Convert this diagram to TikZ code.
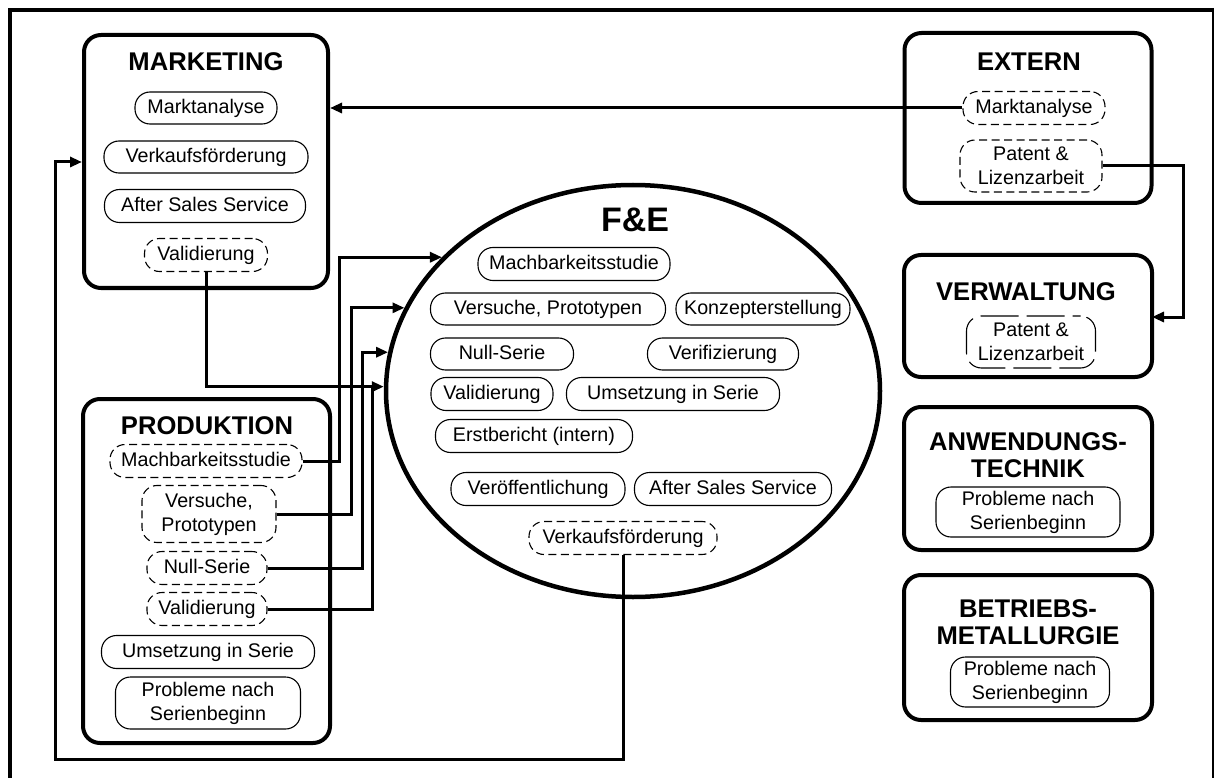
\documentclass[tikz,border=0pt]{standalone}
\usepackage{fontspec}
\setmainfont{Liberation Sans}
\usetikzlibrary{arrows.meta,shapes.geometric}

\newcommand\myItemFont{\fontsize{19.7pt}{24pt}\selectfont}
\newcommand\myHeadFont{\fontsize{25.6pt}{27pt}\selectfont\bfseries}
\newcommand\myFEFont{\fontsize{34pt}{38pt}\selectfont\bfseries}

\tikzset{
  grp/.style={draw, line width=4pt, rounded corners=17pt, inner sep=0pt},
  pillbase/.style={draw, line width=1.1pt, rounded corners=15pt, align=center,
    font=\myItemFont, inner sep=0pt},
  pill/.style={pillbase, text height=14.5pt, text depth=3.5pt},
  dpill/.style={pill, dash pattern=on 8pt off 4.5pt},
  dpilltwo/.style={pillbase, dash pattern=on 8pt off 4.5pt},
  longdash/.style={pillbase, dash pattern=on 38pt off 8pt, dash phase=30pt},
  head/.style={font=\myHeadFont, align=center, inner sep=0pt},
  conn/.style={line width=3pt, -{Triangle[length=12pt,width=10pt]}},
  plain/.style={line width=3pt}
}

\begin{document}
\begin{tikzpicture}[x=1pt,y=-1pt]
\useasboundingbox (0,0) rectangle (1216,778);

% outer frame
\draw[line width=4pt] (10,790) -- (10,10) -- (1213,10);
\draw[line width=2pt] (1213,8) -- (1213,790);

% ---------- MARKETING ----------
\node[grp, minimum width=244pt, minimum height=253pt] (mkt) at (206,161.5) {};
\node[head] (tMkt) at (206,62) {MARKETING};
\node[pill, minimum width=142pt, minimum height=32pt] (mMA) at (206,108) {Marktanalyse};
\node[pill, minimum width=204pt, minimum height=32pt] (mVK) at (206,157) {Verkaufsförderung};
\node[pill, minimum width=201pt, minimum height=33pt] (mAS) at (205,206) {After Sales Service};
\node[dpill, minimum width=123pt, minimum height=33pt] (mVal) at (206,255) {Validierung};

% ---------- PRODUKTION ----------
\node[grp, minimum width=247pt, minimum height=344pt] (prod) at (206.5,571) {};
\node[head] (tProd) at (207,426) {PRODUKTION};
\node[dpill, minimum width=192pt, minimum height=33pt] (pMach) at (206,461) {Machbarkeitsstudie};
\node[dpilltwo, minimum width=134pt, minimum height=57pt] (pVers) at (209,514) {Versuche,\\Prototypen};
\node[dpill, minimum width=120pt, minimum height=33pt] (pNull) at (207,568) {Null-Serie};
\node[dpill, minimum width=120pt, minimum height=33pt] (pVal) at (207,609) {Validierung};
\node[pill, minimum width=213pt, minimum height=33pt] (pUms) at (208,652) {Umsetzung in Serie};
\node[pillbase, minimum width=185pt, minimum height=52pt] (pProb) at (208,703) {Probleme nach\\Serienbeginn};

% ---------- F&E ----------
\node[ellipse, draw, line width=4.5pt, minimum width=494pt, minimum height=412pt, inner sep=0pt] (FE) at (633,391) {};
\node[font=\myFEFont, inner sep=0pt] (tFE) at (635,220) {F\&E};
\node[pill, minimum width=192pt, minimum height=33pt] (fMach) at (574,264) {Machbarkeitsstudie};
\node[pill, minimum width=235pt, minimum height=32pt] (fVers) at (548,309) {Versuche, Prototypen};
\node[pill, minimum width=174pt, minimum height=32pt] (fKonz) at (763,309) {Konzepterstellung};
\node[pill, minimum width=143pt, minimum height=32pt] (fNull) at (502,354) {Null-Serie};
\node[pill, minimum width=151pt, minimum height=32pt] (fVerif) at (723,354) {Verifizierung};
\node[pill, minimum width=122pt, minimum height=33pt] (fVal) at (492,394) {Validierung};
\node[pill, minimum width=213pt, minimum height=33pt] (fUms) at (673,394) {Umsetzung in Serie};
\node[pill, minimum width=197pt, minimum height=33pt] (fErst) at (534,436) {Erstbericht (intern)};
\node[pill, minimum width=174pt, minimum height=33pt] (fVer) at (538,489) {Veröffentlichung};
\node[pill, minimum width=197pt, minimum height=33pt] (fAS) at (733,489) {After Sales Service};
\node[dpill, minimum width=188pt, minimum height=33pt] (fVK) at (623,538) {Verkaufsförderung};

% ---------- EXTERN ----------
\node[grp, minimum width=247pt, minimum height=170pt] (ext) at (1028,118) {};
\node[head] (tExt) at (1029,62) {EXTERN};
\node[dpill, minimum width=142pt, minimum height=33pt] (eMA) at (1034,108) {Marktanalyse};
\node[dpilltwo, minimum width=142pt, minimum height=52pt] (ePat) at (1031,166) {Patent \&\\Lizenzarbeit};

% ---------- VERWALTUNG ----------
\node[grp, minimum width=248pt, minimum height=122pt] (vw) at (1028,316) {};
\node[head] (tVw) at (1026,292) {VERWALTUNG};
\node[longdash, minimum width=129pt, minimum height=52pt] (vPat) at (1031,342) {Patent \&\\Lizenzarbeit};

% ---------- ANWENDUNGSTECHNIK ----------
\node[grp, minimum width=248pt, minimum height=143pt] (anw) at (1028,478.5) {};
\node[head] (tAnw) at (1028,455) {ANWENDUNGS-\\TECHNIK};
\node[pillbase, minimum width=184pt, minimum height=50pt] (aProb) at (1028,512) {Probleme nach\\Serienbeginn};

% ---------- BETRIEBSMETALLURGIE ----------
\node[grp, minimum width=248pt, minimum height=145pt] (bet) at (1028,647.5) {};
\node[head] (tBet) at (1028,622.5) {BETRIEBS-\\METALLURGIE};
\node[pillbase, minimum width=159pt, minimum height=50pt] (bProb) at (1030,682) {Probleme nach\\Serienbeginn};

% ---------- connectors ----------
% bend points
\coordinate (j1) at (339,0);
\coordinate (j2) at (351,0);
\coordinate (j3) at (362,0);
\coordinate (j4) at (372,0);
\coordinate (loopBL) at (55,759);
\coordinate (loopTL) at (55,162);
\coordinate (j5) at (1183,0);
\coordinate (vwIn) at (1152,317);

% external market analysis -> marketing
\draw[conn] (eMA.west) -- (eMA.west -| mkt.east);

% sales promotion loop back to marketing
\draw[conn] (fVK.south) |- (loopBL) -- (loopTL) -- (loopTL -| mkt.west);

% production items -> F&E
\draw[conn] (pMach.east) -- (pMach.east -| j1) -- (j1 |- FE.145.6) -- (FE.145.6);
\draw[conn] (pVers.east) -- (pVers.east -| j2) -- (j2 |- FE.160.1) -- (FE.160.1);
\draw[conn] (pNull.east) -- (pNull.east -| j3) -- (j3 |- FE.171.3) -- (FE.171.3);
\draw[plain] (pVal.east) -- (pVal.east -| j4) -- (j4 |- FE.179.3);

% marketing validation -> F&E
\draw[conn] (mVal.south) |- (FE.179.3);

% external patents -> administration
\draw[conn] (ePat.east) -- (ePat.east -| j5) -- (j5 |- vwIn) -- (vwIn);

\end{tikzpicture}
\end{document}
